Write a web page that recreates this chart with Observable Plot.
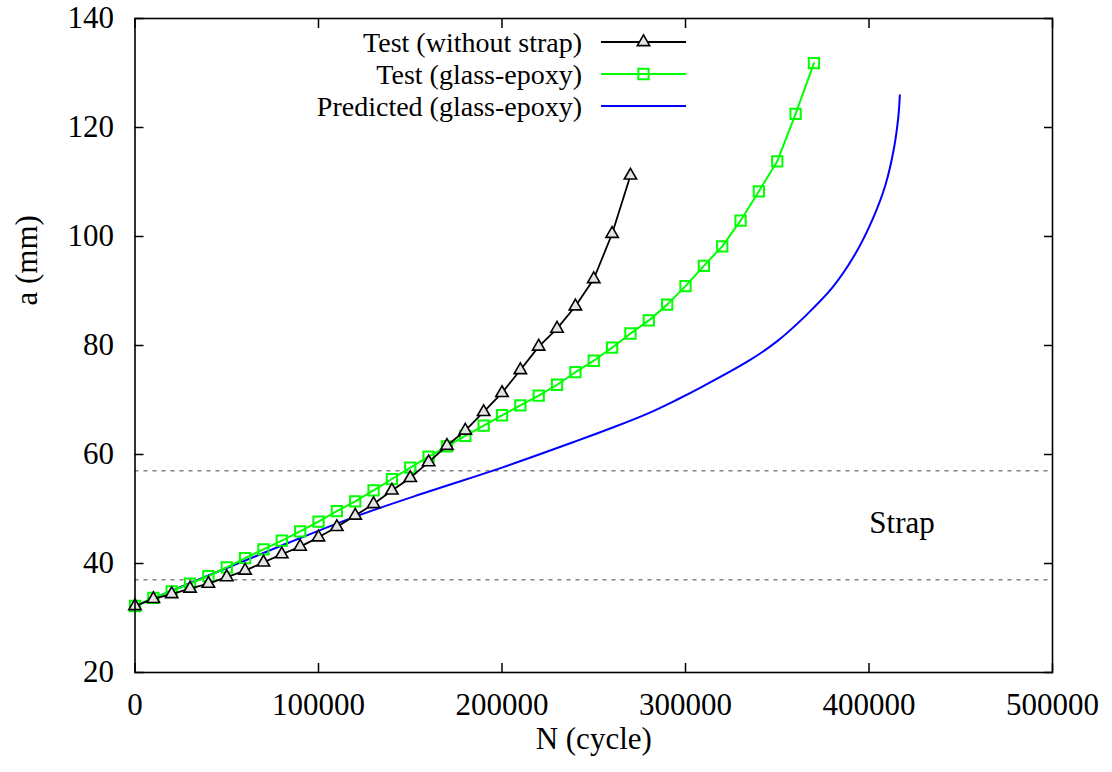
<!DOCTYPE html>
<html><head><meta charset="utf-8">
<script src="https://cdn.jsdelivr.net/npm/d3@7"></script>
<script src="https://cdn.jsdelivr.net/npm/@observablehq/plot@0.6"></script>
<style>body{margin:0;background:#fff} svg{display:block}</style>
</head><body><div id="chart"></div>
<script>
// Test (without strap)
const cyclesNoStrap = [0,10000,20000,30000,40000,50000,60000,70000,80000,90000,100000,110000,120000,130000,140000,150000,160000,170000,180000,190000,200000,210000,220000,230000,240000,250000,260000,270000];
const crackNoStrap  = [32.2,33.5,34.4,35.4,36.3,37.5,38.7,40.2,41.7,43.1,44.8,46.7,48.8,50.9,53.4,55.7,58.6,61.6,64.4,67.8,71.3,75.5,79.8,83.1,87.2,92.2,100.5,111.2];
// Test (glass-epoxy)
const cyclesGlass = [0,10000,20000,30000,40000,50000,60000,70000,80000,90000,100000,110000,120000,130000,140000,150000,160000,170000,180000,190000,200000,210000,220000,230000,240000,250000,260000,270000,280000,290000,300000,310000,320000,330000,340000,350000,360000,370000];
const crackGlass  = [32.2,33.7,34.9,36.3,37.7,39.3,41.0,42.6,44.2,45.9,47.7,49.6,51.4,53.4,55.5,57.6,59.6,61.5,63.4,65.3,67.2,69.0,70.8,72.8,75.1,77.2,79.6,82.2,84.6,87.5,90.9,94.6,98.2,102.9,108.3,113.8,122.5,131.8];
// Predicted (glass-epoxy)
const cyclesPred = [0,40000,80000,120000,160000,200000,240000,260000,280000,295000,310000,335000,350000,365000,380000,392000,402000,409000,413500,416000,416800];
const crackPred  = [32.2,37.8,43.3,48.6,53.2,57.6,62.4,64.9,67.6,70.0,72.6,77.3,80.8,85.3,90.6,96.5,103.2,109.5,116.0,122.0,125.9];
// Strap region bounds and label
const strapBounds = [37, 57];
const strapLabel = [{N: 418000, a: 47.5, text: "Strap"}];
// Ticks
const xTicks = [0,100000,200000,300000,400000,500000];
const yTicks = [20,40,60,80,100,120,140];
// Legend
const seriesNames = ["Test (without strap)", "Test (glass-epoxy)", "Predicted (glass-epoxy)"];
const seriesColors = ["#000000", "#00ff00", "#0000ff"];
const seriesSymbols = ["triangle", "square", null];

const noStrap = cyclesNoStrap.map((n,i)=>({N:n, a:crackNoStrap[i]}));
const glass = cyclesGlass.map((n,i)=>({N:n, a:crackGlass[i]}));
const pred = cyclesPred.map((n,i)=>({N:n, a:crackPred[i]}));

const font = "'Liberation Serif', 'Times New Roman', serif";
const fs = 31;
const legendFs = 28;
const triFill = "#e4e4e4";

const fig = Plot.plot({
  width: 1112, height: 772,
  marginLeft: 134.5, marginRight: 60, marginTop: 18, marginBottom: 100,
  style: {fontFamily: font, fontSize: fs + "px", background: "#fff", color: "#000"},
  x: {domain: [0, 500000]},
  y: {domain: [20, 140]},
  marks: [
    Plot.ruleY(strapBounds, {stroke: "#444", strokeWidth: 1, strokeDasharray: "4,5"}),
    Plot.line(pred, {x: "N", y: "a", stroke: seriesColors[2], strokeWidth: 2, curve: "catmull-rom"}),
    Plot.line(glass, {x: "N", y: "a", stroke: seriesColors[1], strokeWidth: 2}),
    Plot.dot(glass, {x: "N", y: "a", symbol: "square", r: 5.8, stroke: seriesColors[1], strokeWidth: 2, fill: "none"}),
    Plot.line(noStrap, {x: "N", y: "a", stroke: seriesColors[0], strokeWidth: 1.8}),
    Plot.dot(noStrap, {x: "N", y: "a", symbol: "triangle", r: 4.6, stroke: seriesColors[0], strokeWidth: 1.6, fill: triFill}),
    Plot.text(strapLabel, {x: "N", y: "a", text: "text", fontSize: fs}),
    Plot.frame({stroke: "#000", strokeWidth: 1.6}),
    Plot.axisX({anchor: "bottom", ticks: xTicks, tickSize: -9, tickPadding: 29, tickFormat: d3.format("d"), label: null, strokeWidth: 1.5, fontSize: fs}),
    Plot.axisX({anchor: "top", ticks: xTicks, tickSize: -9, tickFormat: () => "", label: null, strokeWidth: 1.5}),
    Plot.axisY({anchor: "left", ticks: yTicks, tickSize: -9, tickPadding: 30, label: null, strokeWidth: 1.5, fontSize: fs}),
    Plot.axisY({anchor: "right", ticks: yTicks, tickSize: -9, tickFormat: () => "", label: null, strokeWidth: 1.5}),
    Plot.text(["N (cycle)"], {frameAnchor: "bottom", dy: 76, fontSize: fs}),
    Plot.text(["a (mm)"], {frameAnchor: "left", dx: -108, dy: -40, rotate: -90, fontSize: fs})
  ]
});

// Legend (top-left inside the frame)
const svg = d3.select(fig);
const lg = svg.append("g").attr("font-family", font).attr("font-size", legendFs);
seriesNames.forEach((name, i) => {
  const y = 42 + i * 32;
  lg.append("text").attr("x", 582).attr("y", y).attr("dy", "0.35em").attr("text-anchor", "end").attr("fill", "#000").text(name);
  lg.append("line").attr("x1", 601).attr("x2", 686).attr("y1", y).attr("y2", y)
    .attr("stroke", seriesColors[i]).attr("stroke-width", i === 0 ? 1.8 : 2);
  if (seriesSymbols[i]) {
    const sym = seriesSymbols[i] === "triangle" ? d3.symbolTriangle : d3.symbolSquare;
    const r = seriesSymbols[i] === "triangle" ? 4.6 : 5.8;
    lg.append("path").attr("transform", `translate(643.5,${y})`)
      .attr("d", d3.symbol(sym, Math.PI * r * r)())
      .attr("fill", seriesSymbols[i] === "triangle" ? triFill : "none")
      .attr("stroke", seriesColors[i]).attr("stroke-width", i === 0 ? 1.6 : 2);
  }
});

document.getElementById("chart").appendChild(fig);
</script>
</body></html>
